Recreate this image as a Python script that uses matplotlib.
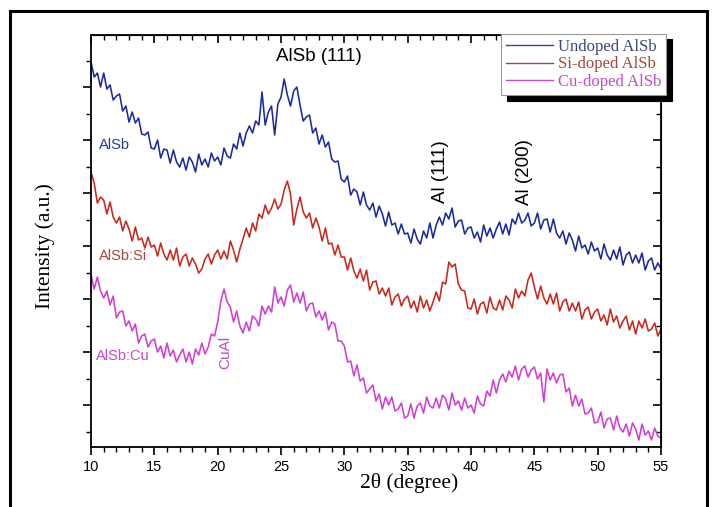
import numpy as np
import matplotlib.pyplot as plt
from matplotlib.ticker import MultipleLocator
from matplotlib.patches import Rectangle

# 2-theta grid (degree), 0.25 step from 10 to 55
two_theta = 10 + 0.25 * np.arange(181)

# intensities (a.u.), already offset for stacking
undoped = [385, 370, 374, 360, 374, 358, 362, 347, 351, 353, 336, 341, 325, 335, 324, 329, 313, 312, 315, 299,
           298, 307, 289, 298, 297, 284, 297, 285, 280, 289, 277, 290, 285, 275, 293, 282, 288, 280, 294, 286,
           290, 282, 299, 291, 289, 303, 298, 314, 301, 314, 321, 314, 326, 322, 355, 322, 335, 341, 312, 343,
           350, 368, 352, 341, 356, 360, 342, 326, 330, 332, 314, 319, 303, 312, 300, 305, 288, 285, 286, 268,
           265, 271, 252, 258, 255, 242, 255, 242, 237, 244, 230, 241, 233, 221, 235, 222, 224, 213, 223, 213,
           214, 204, 218, 208, 203, 216, 209, 224, 209, 222, 230, 222, 234, 228, 239, 220, 226, 227, 213, 219,
           220, 209, 215, 205, 222, 211, 219, 209, 218, 225, 213, 223, 212, 228, 223, 234, 224, 227, 234, 221,
           224, 234, 218, 227, 228, 215, 228, 214, 209, 216, 203, 214, 207, 196, 211, 199, 202, 193, 205, 196,
           199, 188, 203, 192, 187, 197, 188, 200, 182, 192, 195, 184, 192, 184, 194, 177, 186, 189, 177, 184,
           178]

si_doped = [275, 264, 244, 250, 247, 233, 245, 230, 224, 230, 216, 226, 218, 206, 220, 207, 209, 199, 210, 200,
            202, 191, 204, 193, 187, 197, 187, 199, 181, 190, 193, 181, 189, 183, 174, 178, 188, 193, 183, 192,
            197, 188, 196, 188, 206, 197, 185, 198, 208, 219, 210, 224, 216, 233, 229, 242, 233, 239, 248, 238,
            243, 257, 266, 253, 222, 238, 250, 235, 229, 234, 219, 229, 220, 206, 219, 203, 204, 192, 202, 190,
            190, 177, 189, 176, 169, 178, 166, 177, 157, 165, 166, 153, 159, 151, 159, 142, 150, 153, 141, 148,
            151, 139, 146, 135, 151, 139, 147, 136, 145, 155, 146, 165, 163, 185, 180, 183, 163, 157, 156, 139,
            138, 148, 133, 143, 145, 134, 150, 139, 137, 147, 137, 151, 147, 139, 158, 149, 156, 151, 167, 174,
            160, 148, 161, 149, 143, 153, 143, 154, 136, 145, 148, 136, 144, 136, 145, 128, 137, 140, 128, 135,
            138, 126, 132, 122, 138, 125, 131, 119, 126, 131, 117, 126, 113, 126, 119, 128, 116, 118, 124, 111,
            118]

cu_doped = [172, 158, 170, 156, 149, 156, 142, 151, 129, 135, 136, 121, 126, 116, 123, 104, 111, 113, 100, 106,
            108, 95, 101, 89, 104, 91, 97, 85, 92, 98, 85, 95, 83, 98, 92, 104, 93, 100, 113, 111,
            125, 146, 158, 145, 140, 125, 136, 121, 114, 125, 116, 131, 128, 121, 141, 133, 141, 135, 160, 144,
            150, 141, 157, 162, 145, 154, 144, 155, 136, 143, 144, 130, 136, 127, 135, 117, 125, 123, 106, 106,
            101, 85, 86, 71, 82, 66, 69, 54, 58, 62, 46, 53, 38, 50, 42, 50, 36, 38, 44, 29,
            31, 43, 29, 41, 44, 34, 50, 41, 39, 49, 39, 52, 48, 37, 54, 42, 46, 37, 49, 39,
            42, 34, 51, 43, 41, 56, 51, 67, 54, 67, 73, 65, 76, 70, 81, 67, 78, 81, 70, 77,
            80, 68, 74, 45, 78, 67, 74, 64, 72, 73, 55, 59, 41, 52, 41, 48, 33, 34, 39, 24,
            25, 35, 19, 28, 29, 17, 31, 19, 15, 23, 11, 24, 18, 7, 23, 12, 16, 7, 19, 11,
            9]

labels = ['Undoped AlSb', 'Si-doped AlSb', 'Cu-doped AlSb']
colors = ['#1b2a9c', '#c9281f', '#d03fd3']
legend_colors = ['#3a4680', '#a8463a', '#c04cc8']

sans = ['Liberation Sans', 'DejaVu Sans']
serif = ['Liberation Serif', 'DejaVu Serif']

fig = plt.figure(figsize=(7.14, 5.07), dpi=100)
ax = fig.add_axes([0.1275, 0.1183, 0.7983, 0.8126])

for y, lab, c in zip([undoped, si_doped, cu_doped], labels, colors):
    ax.plot(two_theta, y, color=c, lw=1.15, label=lab)

ax.set_xlim(10, 55)
ax.set_ylim(0, 412)
ax.xaxis.set_major_locator(MultipleLocator(5))
ax.xaxis.set_minor_locator(MultipleLocator(1))
ax.yaxis.set_major_locator(MultipleLocator(53, offset=42))
ax.yaxis.set_minor_locator(MultipleLocator(26.5, offset=15.5))
ax.set_yticklabels([])
ax.tick_params(which='major', direction='out', length=6, width=1.2)
ax.tick_params(which='minor', direction='out', length=3.5, width=1.0)
for lbl in ax.get_xticklabels():
    lbl.set_family(sans)
    lbl.set_fontsize(10.5)
for sp in ax.spines.values():
    sp.set_linewidth(1.3)

# mirrored ticks pointing inward on top and right
top = ax.secondary_xaxis('top')
top.xaxis.set_major_locator(MultipleLocator(5))
top.xaxis.set_minor_locator(MultipleLocator(1))
top.tick_params(which='major', direction='in', length=6, width=1.2, labeltop=False)
top.tick_params(which='minor', direction='in', length=3.5, width=1.0)
right = ax.secondary_yaxis('right')
right.yaxis.set_major_locator(MultipleLocator(53, offset=42))
right.yaxis.set_minor_locator(MultipleLocator(26.5, offset=15.5))
right.tick_params(which='major', direction='in', length=6, width=1.2, labelright=False)
right.tick_params(which='minor', direction='in', length=3.5, width=1.0)

fig.text(0.573, 0.047, '2\u03b8 (degree)', family=serif, fontsize=15.5, ha='center', va='center')
fig.text(0.063, 0.515, 'Intensity (a.u.)', family=serif, fontsize=15.5, rotation=90,
         ha='center', va='center')

# peak and sample labels
ax.text(27.96, 391, 'AlSb (111)', family=sans, fontsize=13.5, ha='center', va='center')
ax.text(37.6, 275, 'Al (111)', family=sans, fontsize=13.5, rotation=90, ha='center', va='center')
ax.text(44.2, 275, 'Al (200)', family=sans, fontsize=13.5, rotation=90, ha='center', va='center')
ax.text(10.6, 302, 'AlSb', family=sans, fontsize=10.5, color='#2a3890', va='center')
ax.text(10.6, 191, 'AlSb:Si', family=sans, fontsize=10.5, color='#a8463a', va='center')
ax.text(10.4, 91, 'AlSb:Cu', family=sans, fontsize=10.5, color='#c04cc8', va='center')
ax.text(20.6, 95, 'CuAl', family=sans, fontsize=11, color='#c04cc8', rotation=90,
        ha='center', va='center')

leg = ax.legend(loc='upper right', bbox_to_anchor=(1.009, 1.003), borderaxespad=0,
                prop={'family': serif, 'size': 12}, handlelength=2.8, handletextpad=0.3,
                labelspacing=0.1, borderpad=0.3, fancybox=False, framealpha=1,
                edgecolor='#999999', shadow={'color': 'black', 'alpha': 1, 'ox': 4, 'oy': -4})
leg.get_frame().set_linewidth(0.8)
for t, c in zip(leg.get_texts(), legend_colors):
    t.set_color(c)
for h, c in zip(leg.get_lines(), legend_colors):
    h.set_color(c)
    h.set_linewidth(1.0)

# outer frame around the whole picture
fig.patches.append(Rectangle((0.014, -0.02), 0.976, 0.998, transform=fig.transFigure,
                             fill=False, lw=2.2, ec='black'))

fig.savefig('out.png', dpi=100)
